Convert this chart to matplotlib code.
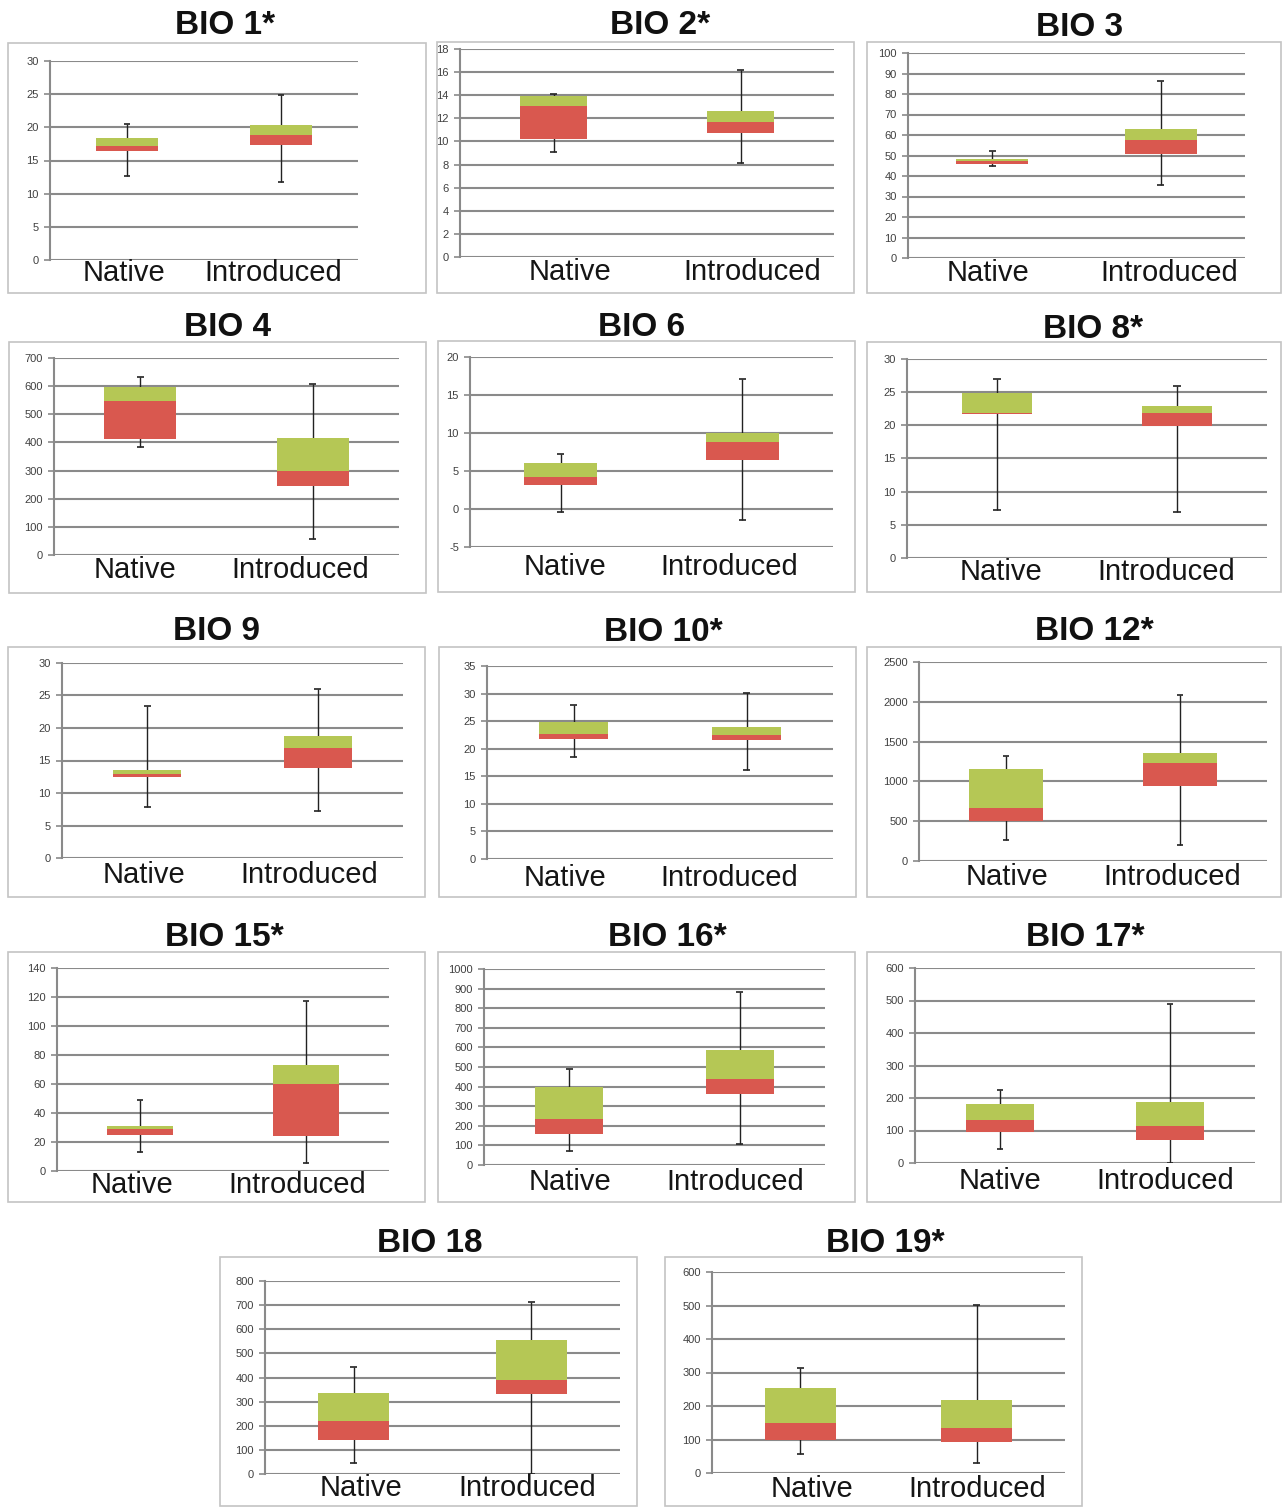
import matplotlib.pyplot as plt
from matplotlib.patches import Rectangle

plt.rcParams['font.family'] = ['Liberation Sans', 'DejaVu Sans']

W, H = 1282, 1507

# ---- data -------------------------------------------------------------
titles = ['BIO 1*', 'BIO 2*', 'BIO 3', 'BIO 4', 'BIO 6', 'BIO 8*',
          'BIO 9', 'BIO 10*', 'BIO 12*', 'BIO 15*', 'BIO 16*', 'BIO 17*',
          'BIO 18', 'BIO 19*']
groups = ['Native', 'Introduced']

y_min = [0, 0, 0, 0, -5, 0, 0, 0, 0, 0, 0, 0, 0, 0]
y_max = [30, 18, 100, 700, 20, 30, 30, 35, 2500, 140, 1000, 600, 800, 600]
y_step = [5, 2, 10, 100, 5, 5, 5, 5, 500, 20, 100, 100, 100, 100]

# native: whisker low, Q1, median, Q3, whisker high
native_low = [12.7, 9.05, 44.7, 384, -0.33, 7.2, 7.8, 18.5, 260, 13.3, 73, 43, 46, 57]
native_q1 = [16.5, 10.2, 46.0, 411, 3.2, 21.7, 12.4, 21.8, 498, 24.6, 156, 95, 141, 99]
native_med = [17.25, 13.05, 47.2, 547, 4.27, 21.86, 12.9, 22.7, 670, 28.9, 235, 133, 220, 149]
native_q3 = [18.45, 13.95, 48.1, 597, 6.0, 24.87, 13.55, 24.8, 1160, 31.0, 396, 183, 336, 254]
native_high = [20.45, 14.07, 52.2, 633, 7.3, 27.0, 23.35, 27.95, 1315, 49.3, 490, 226, 444, 313]

# introduced: whisker low, Q1, median, Q3, whisker high
intro_low = [11.8, 8.1, 35.8, 56, -1.4, 7.0, 7.3, 16.1, 205, 5.7, 109, 0, 0, 30]
intro_q1 = [17.35, 10.7, 50.9, 245, 6.4, 19.95, 13.8, 21.5, 938, 24.1, 361, 70, 332, 93]
intro_med = [18.85, 11.7, 57.7, 299, 8.85, 21.86, 16.86, 22.4, 1231, 59.9, 437, 113, 390, 134]
intro_q3 = [20.35, 12.63, 63.1, 417, 9.94, 22.96, 18.75, 23.9, 1357, 73.4, 587, 188, 556, 218]
intro_high = [24.8, 16.18, 86.3, 609, 17.1, 26.0, 26.06, 30.05, 2081, 117, 884, 489, 714, 501]

# ---- layout (pixels) --------------------------------------------------
frames = [(8, 43, 426, 293), (437, 42, 854, 293), (867, 42, 1281, 293),
          (9, 342, 426, 593), (438, 341, 855, 592), (867, 342, 1281, 592),
          (8, 647, 425, 897), (439, 647, 856, 897), (867, 647, 1281, 897),
          (8, 952, 425, 1202), (438, 952, 855, 1202), (867, 952, 1281, 1202),
          (220, 1257, 637, 1506), (665, 1257, 1082, 1506)]
plot_areas = [(50, 358, 61, 260), (460, 834, 49, 257), (908, 1245, 53, 258),
              (54, 399, 358, 555), (470, 833, 357, 547), (907, 1267, 359, 558),
              (62, 403, 663, 858), (487, 833, 666, 859), (919, 1267, 662, 861),
              (57, 389, 968, 1171), (484, 825, 969, 1165), (915, 1255, 968, 1163),
              (265, 620, 1281, 1474), (712, 1065, 1272, 1473)]
title_pos = [(225, 26), (660, 26), (1080, 27),
             (227, 327), (642, 328), (1093, 329),
             (217, 631), (663, 632), (1094, 631),
             (224, 937), (667, 938), (1085, 937),
             (430, 1244), (885, 1244)]
# category labels were placed by hand in the original: (native x, introduced x, y)
label_pos = [(124, 273, 273), (570, 752, 272), (988, 1169, 273),
             (135, 300, 570), (565, 729, 567), (1001, 1166, 572),
             (144, 309, 875), (565, 729, 878), (1007, 1172, 877),
             (132, 297, 1185), (570, 735, 1182), (1000, 1165, 1181),
             (361, 527, 1488), (812, 977, 1489)]
bar_width = [0.40, 0.36, 0.43, 0.42, 0.40, 0.39, 0.40, 0.40, 0.42,
             0.40, 0.40, 0.40, 0.40, 0.40]

GREEN = '#b5c755'
RED = '#d9584f'
GRID = '#8a8a8a'

fig = plt.figure(figsize=(W / 100, H / 100), dpi=100)
fig.patch.set_facecolor('white')

for i, title in enumerate(titles):
    # light frame around each small chart
    fx0, fy0, fx1, fy1 = frames[i]
    fig.patches.append(Rectangle((fx0 / W, 1 - fy1 / H), (fx1 - fx0) / W,
                                 (fy1 - fy0) / H, transform=fig.transFigure,
                                 fill=False, edgecolor='#c4c4c4', linewidth=1.2))
    tx, ty = title_pos[i]
    fig.text(tx / W, 1 - ty / H, title, ha='center', va='center',
             fontsize=24, fontweight='bold', color='#111111')
    nx_, ix_, ly = label_pos[i]
    for lx, name in zip([nx_, ix_], groups):
        fig.text(lx / W, 1 - ly / H, name, ha='center', va='center',
                 fontsize=21, color='#151515')

    x0, x1, yt, yb = plot_areas[i]
    ax = fig.add_axes([x0 / W, 1 - yb / H, (x1 - x0) / W, (yb - yt) / H])
    ax.set_xlim(0, 2)
    ax.set_ylim(y_min[i], y_max[i])
    ticks = list(range(y_min[i], y_max[i] + 1, y_step[i]))
    ax.set_yticks(ticks)
    ax.set_yticklabels([str(t) for t in ticks])
    ax.yaxis.grid(True, color=GRID, linewidth=1.5)
    ax.set_axisbelow(True)
    for side in ['top', 'right', 'bottom']:
        ax.spines[side].set_visible(False)
    ax.spines['left'].set_color(GRID)
    ax.spines['left'].set_linewidth(1.5)
    ax.tick_params(axis='y', length=4, width=1.2, color=GRID,
                   labelsize=8, labelcolor='#404040', pad=4)
    ax.set_xticks([])

    stats = [
        (native_low[i], native_q1[i], native_med[i], native_q3[i], native_high[i]),
        (intro_low[i], intro_q1[i], intro_med[i], intro_q3[i], intro_high[i]),
    ]
    w = bar_width[i]
    for x, (lo, q1, med, q3, hi) in zip([0.5, 1.5], stats):
        ax.vlines(x, lo, hi, color='#222222', linewidth=1.0, zorder=2)
        ax.hlines([lo, hi], x - 0.02, x + 0.02, color='#222222',
                  linewidth=1.2, zorder=2)
        ax.bar(x, med - q1, bottom=q1, width=w, color=RED, zorder=3)
        ax.bar(x, q3 - med, bottom=med, width=w, color=GREEN, zorder=3)

fig.savefig('out.png', dpi=100)
